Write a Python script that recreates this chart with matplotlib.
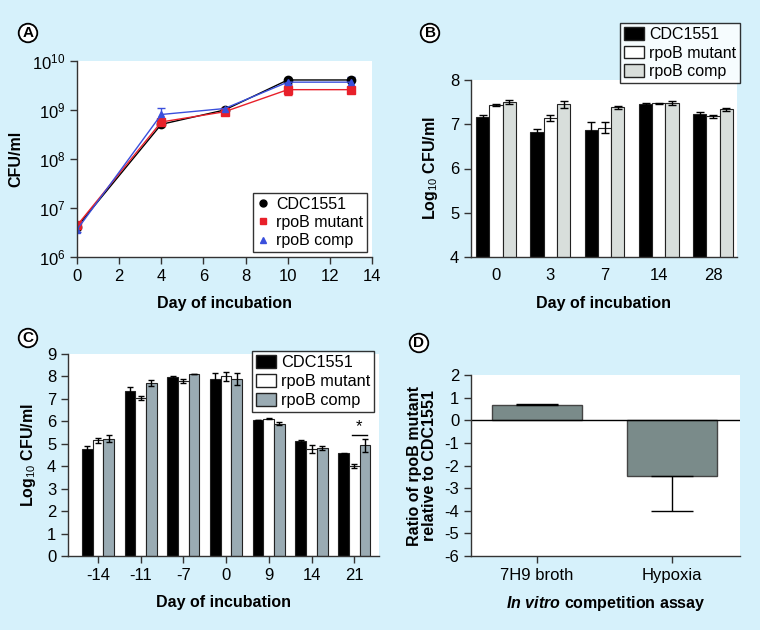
import matplotlib
matplotlib.use('Agg')
import matplotlib.pyplot as plt
import numpy as np
from matplotlib.lines import Line2D
from matplotlib.patches import Patch

plt.rcParams['font.family'] = ['Liberation Sans', 'DejaVu Sans']
plt.rcParams['mathtext.fontset'] = 'custom'
plt.rcParams['mathtext.rm'] = 'Liberation Sans'
plt.rcParams['mathtext.it'] = 'Liberation Sans:italic:bold'
plt.rcParams['mathtext.bf'] = 'Liberation Sans:bold'
plt.rcParams['axes.unicode_minus'] = False

BG = '#d6f1fb'
strains = ['CDC1551', 'rpoB mutant', 'rpoB comp']

# Panel A: growth curve (CFU/ml)
days_a = [0, 4, 7, 10, 13]
cdc_a = [4.1e6, 5.1e8, 1.0e9, 4.1e9, 4.1e9]
mut_a = [4.4e6, 5.7e8, 9.2e8, 2.6e9, 2.6e9]
comp_a = [3.6e6, 8.1e8, 1.07e9, 3.7e9, 3.7e9]
cdc_a_err = [0, 0, 0, 0, 0]
mut_a_err = [0, 0.4e8, 0, 0.6e9, 0.2e9]
comp_a_err = [0.4e6, 0.3e9, 0, 0.3e9, 1.1e9]

# Panel B: log10 CFU/ml
days_b = ['0', '3', '7', '14', '28']
cdc_b = [7.17, 6.83, 6.87, 7.46, 7.23]
mut_b = [7.44, 7.14, 6.92, 7.47, 7.18]
comp_b = [7.50, 7.45, 7.38, 7.48, 7.34]
cdc_b_err = [0.03, 0.06, 0.17, 0.02, 0.05]
mut_b_err = [0.02, 0.06, 0.12, 0.01, 0.03]
comp_b_err = [0.05, 0.08, 0.03, 0.04, 0.03]

# Panel C: log10 CFU/ml
days_c = ['-14', '-11', '-7', '0', '9', '14', '21']
cdc_c = [4.78, 7.34, 7.97, 7.89, 6.04, 5.12, 4.57]
mut_c = [5.15, 7.03, 7.80, 8.01, 6.11, 4.78, 4.01]
comp_c = [5.22, 7.70, 8.12, 7.89, 5.89, 4.82, 4.93]
cdc_c_err = [0.12, 0.18, 0.03, 0.25, 0.0, 0.07, 0.04]
mut_c_err = [0.12, 0.09, 0.08, 0.20, 0.02, 0.18, 0.10]
comp_c_err = [0.15, 0.13, 0.0, 0.25, 0.07, 0.08, 0.29]

# Panel D: competition ratio
assays = ['7H9 broth', 'Hypoxia']
ratio_d = [0.67, -2.47]
ratio_d_err = [0.03, 1.52]

fig = plt.figure(figsize=(7.6, 6.3), dpi=100, facecolor=BG)

TICK_FS = 12
LAB_FS = 11.5
LEG_FS = 11.5


def style_axes(ax):
    ax.set_facecolor('white')
    for s in ['top', 'right']:
        ax.spines[s].set_visible(False)
    for s in ['left', 'bottom']:
        ax.spines[s].set_linewidth(1.0)
        ax.spines[s].set_color('#333333')
    ax.tick_params(labelsize=TICK_FS, direction='out', length=5, width=1, color='#333333')


def panel_letter(x, y, letter):
    fig.text(x, y, letter, fontsize=11, fontweight='bold', ha='center', va='center',
             bbox=dict(boxstyle='circle,pad=0.15', fc='white', ec='black', lw=1.3))


# ---- A ----
ax = fig.add_axes([77/760, 1-257/630, 295/760, 196/630])
style_axes(ax)
ax.errorbar(days_a, cdc_a, yerr=cdc_a_err, color='black', marker='o', ms=6, lw=1, capsize=3)
ax.errorbar(days_a, mut_a, yerr=mut_a_err, color='#e8202a', marker='s', ms=6, lw=1, capsize=3)
ax.errorbar(days_a, comp_a, yerr=comp_a_err, color='#3a4fdc', marker='^', ms=5, lw=1, capsize=3)
ax.set_yscale('log')
ax.set_ylim(1e6, 1e10)
ax.set_xlim(0, 14)
ax.set_xticks(range(0, 15, 2))
ax.yaxis.set_minor_locator(matplotlib.ticker.NullLocator())
ax.set_xlabel('Day of incubation', fontsize=LAB_FS, fontweight='bold', labelpad=9)
ax.set_ylabel('CFU/ml', fontsize=LAB_FS, fontweight='bold', labelpad=6)
handles = [Line2D([], [], ls='none', marker='o', color='black', ms=5),
           Line2D([], [], ls='none', marker='s', color='#e8202a', ms=5),
           Line2D([], [], ls='none', marker='^', color='#3a4fdc', ms=5)]
leg = ax.legend(handles, strains, loc='lower right', fontsize=LEG_FS, frameon=True, fancybox=False,
                edgecolor='black', handlelength=0.8, handletextpad=0.4, borderpad=0.25,
                labelspacing=0.2, borderaxespad=0.3)
leg.get_frame().set_linewidth(1.0)
panel_letter(28/760, 1-33/630, 'A')

# ---- B ----
ax = fig.add_axes([471/760, 1-257/630, 266/760, 177/630])
style_axes(ax)
x = np.arange(len(days_b))
w = 0.245
ax.bar(x - w, cdc_b, w, yerr=cdc_b_err, color='black', ec='#222222', lw=0.8, capsize=3,
       error_kw=dict(lw=1, capthick=1))
ax.bar(x, mut_b, w, yerr=mut_b_err, color='white', ec='#222222', lw=0.8, capsize=3,
       error_kw=dict(lw=1, capthick=1))
ax.bar(x + w, comp_b, w, yerr=comp_b_err, color='#d8dedb', ec='#222222', lw=0.8, capsize=3,
       error_kw=dict(lw=1, capthick=1))
ax.set_ylim(4, 8)
ax.set_yticks([4, 5, 6, 7, 8])
ax.set_xlim(-0.46, 4.44)
ax.set_xticks(x)
ax.set_xticklabels(days_b)
ax.tick_params(axis='x', length=0, pad=8)
ax.set_xlabel('Day of incubation', fontsize=LAB_FS, fontweight='bold', labelpad=9)
ax.set_ylabel(r'Log$_{10}$ CFU/ml', fontsize=LAB_FS, fontweight='bold', labelpad=7)
handles = [Patch(fc='black', ec='#222222'), Patch(fc='white', ec='#222222'), Patch(fc='#d8dedb', ec='#222222')]
leg = ax.legend(handles, strains, loc='upper right', bbox_to_anchor=(1.012, 1.32), fontsize=LEG_FS,
                frameon=True, fancybox=False, edgecolor='black', handlelength=1.25, handleheight=0.85,
                handletextpad=0.3, borderpad=0.25, labelspacing=0.2, borderaxespad=0)
leg.get_frame().set_linewidth(1.0)
panel_letter(430/760, 1-33/630, 'B')

# ---- C ----
ax = fig.add_axes([68/760, 1-556/630, 311/760, 202/630])
style_axes(ax)
x = np.arange(len(days_c))
w = 0.25
ax.bar(x - w, cdc_c, w, yerr=cdc_c_err, color='black', ec='#222222', lw=0.8, capsize=2.5,
       error_kw=dict(lw=1, capthick=1))
ax.bar(x, mut_c, w, yerr=mut_c_err, color='white', ec='#222222', lw=0.8, capsize=2.5,
       error_kw=dict(lw=1, capthick=1))
ax.bar(x + w, comp_c, w, yerr=comp_c_err, color='#9aabb3', ec='#222222', lw=0.8, capsize=2.5,
       error_kw=dict(lw=1, capthick=1))
ax.set_ylim(0, 9)
ax.set_yticks(range(10))
ax.set_xlim(-0.7, 6.58)
ax.set_xticks(x)
ax.set_xticklabels(days_c)
ax.set_xlabel('Day of incubation', fontsize=LAB_FS, fontweight='bold', labelpad=9)
ax.set_ylabel(r'Log$_{10}$ CFU/ml', fontsize=LAB_FS, fontweight='bold', labelpad=6)
# significance marker over day 21
ax.plot([6 - 0.05, 6 + 0.3], [5.4, 5.4], color='black', lw=1)
ax.text(6 + 0.12, 5.45, '*', ha='center', va='bottom', fontsize=12)
handles = [Patch(fc='black', ec='#222222'), Patch(fc='white', ec='#222222'), Patch(fc='#9aabb3', ec='#222222')]
leg = ax.legend(handles, strains, loc='upper right', bbox_to_anchor=(0.985, 1.015), fontsize=11.8,
                frameon=True, fancybox=False, edgecolor='black', handlelength=1.2, handleheight=0.85,
                handletextpad=0.3, borderpad=0.25, labelspacing=0.22, borderaxespad=0)
leg.get_frame().set_linewidth(1.0)
panel_letter(28/760, 1-338/630, 'C')

# ---- D ----
ax = fig.add_axes([471/760, 1-556/630, 269/760, 181/630])
style_axes(ax)
x = np.arange(len(assays))
lower = [0, ratio_d_err[1]]
upper = [ratio_d_err[0], 0]
ax.bar(x, ratio_d, 0.663, yerr=[lower, upper], color='#7a8b8a', ec='#444444', lw=1, capsize=15,
       error_kw=dict(lw=1, capthick=1))
ax.axhline(0, color='black', lw=1)
ax.set_ylim(-6, 2)
ax.set_yticks(range(-6, 3))
ax.set_xlim(-0.484, 1.5)
ax.set_xticks(x)
ax.set_xticklabels(assays)
ax.set_xlabel(r'$\mathit{In\ vitro}$ competition assay', fontsize=LAB_FS, fontweight='bold', labelpad=8)
ax.set_ylabel('Ratio of rpoB mutant\nrelative to CDC1551', fontsize=LAB_FS, fontweight='bold',
              labelpad=5, linespacing=1.0)
panel_letter(419/760, 1-343/630, 'D')

fig.savefig('out.png', dpi=100, facecolor=BG)
